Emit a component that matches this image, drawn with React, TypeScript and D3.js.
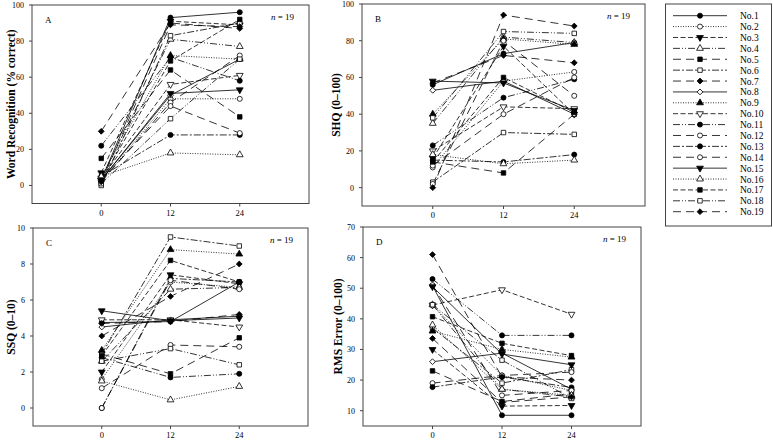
import React from 'react';
import * as d3 from 'd3';

const months = [0, 12, 24];
const subjects = ['No.1', 'No.2', 'No.3', 'No.4', 'No.5', 'No.6', 'No.7', 'No.8', 'No.9', 'No.10',
  'No.11', 'No.12', 'No.13', 'No.14', 'No.15', 'No.16', 'No.17', 'No.18', 'No.19'];

// values at 0, 12, 24 months, one row per subject
const wordRecognition = [
  [3, 93, 96], [2, 48, 48], [7, 91, 89], [4, 81, 77], [15, 64, 38], [0, 83, 90], [30, 90, 87],
  [3, 50, 70], [5, 72, 70], [4, 56, 61], [22, 71, 58], [2, 46, 72], [5, 28, 28], [3, 44, 29],
  [3, 51, 53], [5, 18, 17], [3, 69, 92], [1, 37, 70], [2, 89, 88],
];
const shq = [
  [56, 73, 79], [11, 58, 63], [16, 77, 40], [35, 82, 79], [14, 8, 40], [3, 30, 29], [57, 72, 68],
  [53, 58, 40], [40, 81, 78], [20, 44, 43], [23, 49, 59], [2, 80, 50], [15, 14, 18], [12, 40, 60],
  [58, 57, 42], [18, 13, 15], [14, 60, 41], [38, 85, 84], [0, 94, 88],
];
const ssq = [
  [4.75, 4.8, 7.0], [1.6, 7.0, 6.7], [2.0, 7.4, 6.9], [2.6, 6.6, 6.7], [3.0, 1.9, 3.9], [3.0, 9.5, 9.0],
  [4.0, 6.2, 8.0], [4.5, 4.9, 5.1], [3.2, 8.8, 8.55], [4.9, 4.9, 4.5], [2.8, 1.7, 1.9], [1.1, 3.5, 3.4],
  [0, 7.2, 7.0], [0, 7.1, 6.6], [5.4, 4.85, 5.0], [1.5, 0.45, 1.2], [2.9, 8.2, 7.0], [2.6, 3.3, 2.4],
  [4.7, 4.8, 5.2],
];
const rmsError = [
  [50.8, 8.5, 8.5], [44.5, 21.5, 16.6], [30, 11.5, 11.7], [44.6, 17, 14.5], [23, 13, 15.5], [37, 19, 23.4],
  [61, 21, 20], [26, 28.8, 17], [36, 30, 27.5], [44.5, 49.5, 41.5], [53, 34.6, 34.6], [19, 21.5, 22.6],
  [17.7, 21, 17.6], [51, 15, 16.6], [50.5, 28.5, 25], [38, 17, 15], [40.7, 32, 28], [44.6, 26.5, 14],
  [33.6, 12.7, 14.5],
];

const dashes: Record<string, string | undefined> = {
  solid: undefined, dot: '1,1.5', dash: '5,2.5', dashdotdot: '7,2,1,2,1,2',
  longgap: '8,5', dashdot: '7,2,2,2',
};
// line style, marker shape, filled
const styles: [string, string, boolean][] = [
  ['solid', 'circle', true], ['dot', 'circle', false], ['dash', 'down', true], ['dashdotdot', 'up', false],
  ['longgap', 'square', true], ['dashdot', 'square', false], ['longgap', 'diamond', true], ['solid', 'diamond', false],
  ['dot', 'up', true], ['dash', 'down', false], ['dashdotdot', 'circle', true], ['longgap', 'circle', false],
  ['dashdot', 'circle', true], ['longgap', 'circle', false], ['solid', 'down', true], ['dot', 'up', false],
  ['dash', 'square', true], ['dashdotdot', 'square', false], ['longgap', 'diamond', true],
];

const FONT = '"Liberation Serif", "Times New Roman", serif';

function Marker({ x, y, shape, filled }: { x: number; y: number; shape: string; filled: boolean }) {
  let type: any = d3.symbolCircle, size = 20, rot = 0;
  if (shape === 'square') { type = d3.symbolSquare; size = 20; }
  if (shape === 'up') { type = d3.symbolTriangle; size = 20; }
  if (shape === 'down') { type = d3.symbolTriangle; size = 20; rot = 180; }
  if (shape === 'diamond') { type = d3.symbolSquare; size = 17; rot = 45; }
  const path = d3.symbol().type(type).size(size)() || '';
  return <path d={path} transform={`translate(${x},${y}) rotate(${rot})`}
    fill={filled ? '#000' : '#fff'} stroke="#000" strokeWidth={0.8} />;
}

function Panel({ data, box, yDomain, yTicks, letter, title, titleX }: any) {
  const [l, t, r, b] = box;
  const x = d3.scaleLinear().domain([-12, 36]).range([l, r]);
  const y = d3.scaleLinear().domain(yDomain).range([b, t]);
  const line = d3.line<number>().x((_, i) => x(months[i])).y(v => y(v));
  return (
    <g fontFamily={FONT}>
      {data.map((row: number[], i: number) => (
        <path key={'l' + i} d={line(row) || ''} fill="none" stroke="#000" strokeWidth={0.8}
          strokeDasharray={dashes[styles[i][0]]} />
      ))}
      {data.map((row: number[], i: number) => row.map((v, j) => (
        <Marker key={'m' + i + '-' + j} x={x(months[j])} y={y(v)} shape={styles[i][1]} filled={styles[i][2]} />
      )))}
      <rect x={l} y={t} width={r - l} height={b - t} fill="none" stroke="#444" strokeWidth={1} />
      {yTicks.map((v: number) => (
        <g key={'y' + v}>
          <line x1={l - 3} x2={l} y1={y(v)} y2={y(v)} stroke="#444" />
          <text x={l - 8} y={y(v) + 3} fontSize={8} textAnchor="end" fill="#000">{v}</text>
        </g>
      ))}
      {months.map(m => (
        <g key={'x' + m}>
          <line x1={x(m)} x2={x(m)} y1={b} y2={b + 3} stroke="#444" />
          <text x={x(m)} y={b + 12} fontSize={8.5} textAnchor="middle" fill="#000">{m}</text>
        </g>
      ))}
      <text x={l + 13} y={t + 18} fontSize={9} fill="#000">{letter}</text>
      <text x={r - 38} y={t + 15} fontSize={9} fill="#000"><tspan fontStyle="italic">n</tspan> = 19</text>
      <text transform={`translate(${titleX},${(t + b) / 2}) rotate(-90)`} textAnchor="middle"
        fontSize={11.5} fontWeight="bold" fill="#000">{title}</text>
    </g>
  );
}

function Legend() {
  const rowY = d3.scaleLinear().domain([0, subjects.length - 1]).range([15.7, 211.7]);
  return (
    <g fontFamily={FONT}>
      <rect x={665.5} y={4} width={106} height={222} fill="#fff" stroke="#444" strokeWidth={1} />
      {subjects.map((s, i) => (
        <g key={s}>
          <line x1={673} x2={727} y1={rowY(i)} y2={rowY(i)} stroke="#000" strokeWidth={0.8}
            strokeDasharray={dashes[styles[i][0]]} />
          <Marker x={700} y={rowY(i)} shape={styles[i][1]} filled={styles[i][2]} />
          <text x={740} y={rowY(i) + 3.5} fontSize={9.5} fill="#000">{s}</text>
        </g>
      ))}
    </g>
  );
}

export default function App() {
  return (
    <svg width={773} height={440} style={{ position: 'absolute', left: 0, top: 0, background: '#fff' }}>
      <Panel data={wordRecognition} box={[32, 5, 309, 203.5]} yDomain={[-10, 100]} yTicks={[0, 20, 40, 60, 80, 100]}
        letter="A" title="Word Recognition (% correct)" titleX={15} />
      <Panel data={shq} box={[362, 4, 645, 206]} yDomain={[-10, 100]} yTicks={[0, 20, 40, 60, 80, 100]}
        letter="B" title="SHQ (0–100)" titleX={340} />
      <Panel data={ssq} box={[33, 228, 308, 426]} yDomain={[-1, 10]} yTicks={[0, 2, 4, 6, 8, 10]}
        letter="C" title="SSQ (0–10)" titleX={15} />
      <Panel data={rmsError} box={[363, 227, 641, 426]} yDomain={[5, 70]} yTicks={[10, 20, 30, 40, 50, 60, 70]}
        letter="D" title="RMS Error (0–100)" titleX={342} />
      <Legend />
    </svg>
  );
}
